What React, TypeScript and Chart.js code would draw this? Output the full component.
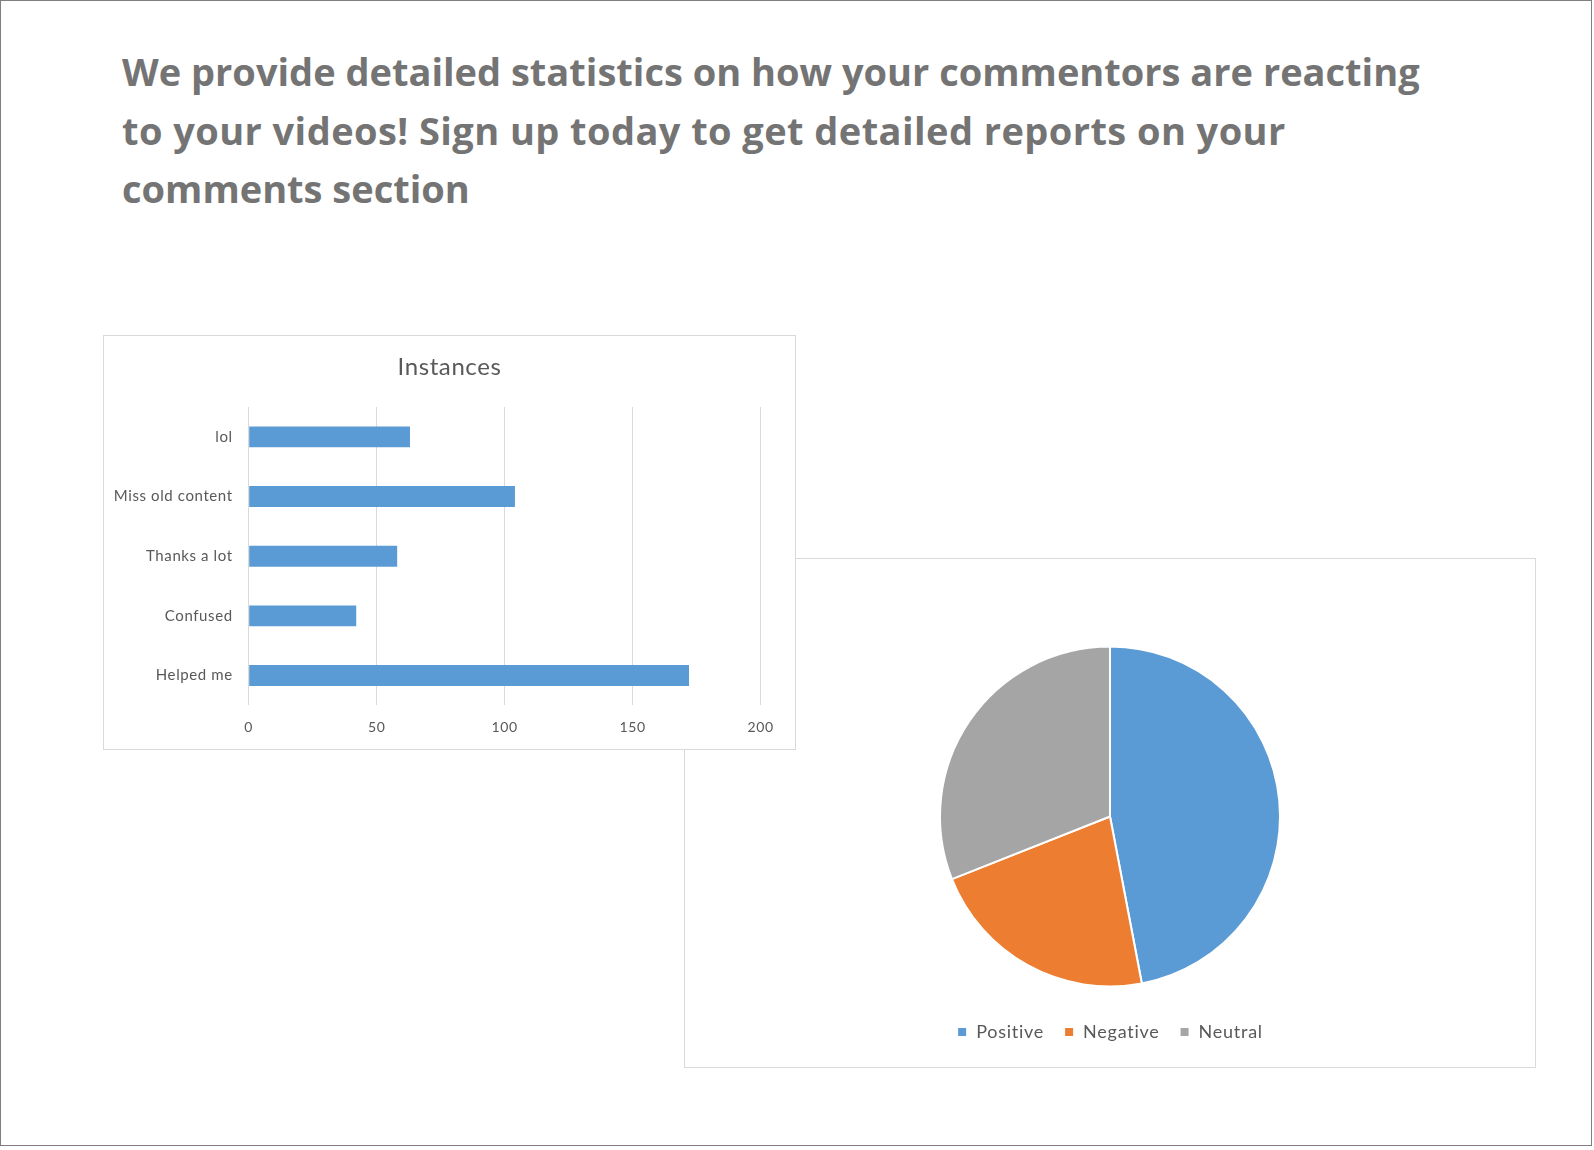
import React, { useEffect, useRef } from "react";
import { Chart, registerables } from "chart.js";

Chart.register(...registerables);

const headingLines = [
  "We provide detailed statistics on how your commentors are reacting",
  "to your videos! Sign up today to get detailed reports on your",
  "comments section",
];

const barTitle = "Instances";
const barCategories = ["lol", "Miss old content", "Thanks a lot", "Confused", "Helped me"];
const barValues = [63, 104, 58, 42, 172];
const barTicks = [0, 50, 100, 150, 200];

const pieLabels = ["Positive", "Negative", "Neutral"];
const pieValues = [47, 22, 31];
const pieColors = ["#5b9bd5", "#ed7d31", "#a5a5a5"];

const FONT = "Lato, 'Open Sans', sans-serif";
const TEXT = "#595959";
const HEADING_SPACING = ["0px", "0.43px", "0px"];

const spacingPlugin = (px: string) => ({
  id: "letterSpacingPlugin",
  beforeUpdate(chart: any) {
    chart.ctx.letterSpacing = px;
  },
  beforeDraw(chart: any) {
    chart.ctx.letterSpacing = px;
  },
});

function BarChart() {
  const ref = useRef<HTMLCanvasElement | null>(null);
  useEffect(() => {
    if (!ref.current) return;
    const chart = new Chart(ref.current, {
      type: "bar",
      data: {
        labels: barCategories,
        datasets: [
          {
            data: barValues,
            backgroundColor: "#5b9bd5",
            barPercentage: 0.35,
            categoryPercentage: 1,
            xAxisID: "x",
            yAxisID: "y",
          },
        ],
      },
      options: {
        indexAxis: "y",
        animation: false,
        responsive: false,
        events: [],
        layout: { padding: { left: 0, right: 0, top: 0, bottom: 0 } },
        plugins: {
          legend: { display: false },
          tooltip: { enabled: false },
          title: {
            display: true,
            text: barTitle,
            color: TEXT,
            font: { family: FONT, size: 24, weight: "normal", lineHeight: 1.2 },
            padding: { top: 16.6, bottom: 25.6 },
          },
        },
        scales: {
          x: {
            type: "linear",
            min: barTicks[0],
            max: barTicks[barTicks.length - 1],
            afterBuildTicks: (s: any) => {
              s.ticks = barTicks.map((v) => ({ value: v }));
            },
            ticks: {
              color: TEXT,
              font: { family: FONT, size: 14, lineHeight: 1.2 },
              padding: 13.4,
            },
            grid: { color: "#d9d9d9", drawTicks: false, lineWidth: 1 },
            border: { display: false },
          },
          y: {
            ticks: {
              color: TEXT,
              font: { family: FONT, size: 15 },
              padding: 16,
            },
            grid: { display: false, drawTicks: false },
            border: { display: false },
            afterFit: (s: any) => {
              s.width = 144.7;
            },
          },
          y2: {
            type: "linear",
            position: "right",
            display: true,
            ticks: { display: false },
            grid: { display: false, drawTicks: false },
            border: { display: false },
            afterFit: (s: any) => {
              s.width = 34.3;
            },
          },
        },
      } as any,
      plugins: [spacingPlugin("0.6px")],
    });
    return () => chart.destroy();
  }, []);
  return <canvas ref={ref} width={691} height={413} style={{ display: "block" }} />;
}

function PieChart() {
  const ref = useRef<HTMLCanvasElement | null>(null);
  useEffect(() => {
    if (!ref.current) return;
    const chart = new Chart(ref.current, {
      type: "pie",
      data: {
        labels: pieLabels,
        datasets: [
          {
            data: pieValues,
            backgroundColor: pieColors,
            borderColor: "#ffffff",
            borderWidth: 2,
            radius: 170,
          },
        ],
      },
      options: {
        animation: false,
        responsive: false,
        events: [],
        layout: { padding: { top: 71, bottom: 16, left: 0, right: 0 } },
        plugins: {
          tooltip: { enabled: false },
          legend: {
            position: "bottom",
            labels: {
              boxWidth: 10,
              boxHeight: 10,
              padding: 20,
              color: TEXT,
              font: { family: FONT, size: 18 },
            },
          },
        },
      } as any,
      plugins: [spacingPlugin("0.75px")],
    });
    return () => chart.destroy();
  }, []);
  return <canvas ref={ref} width={850} height={508} style={{ display: "block" }} />;
}

export default function App() {
  return (
    <div
      style={{
        position: "absolute",
        left: 0,
        top: 0,
        width: 1592,
        height: 1146,
        boxSizing: "border-box",
        border: "1px solid #7f7f7f",
        background: "#ffffff",
        overflow: "hidden",
      }}
    >
      <div
        style={{
          position: "absolute",
          left: 121,
          top: 41,
          fontFamily: "'Open Sans', sans-serif",
          fontWeight: 700,
          fontSize: 38,
          lineHeight: "58.5px",
          color: "#747474",
          whiteSpace: "pre",
        }}
      >
        {headingLines.map((l, i) => (
          <div key={i} style={{ letterSpacing: HEADING_SPACING[i] }}>
            {l}
          </div>
        ))}
      </div>
      <div
        style={{
          position: "absolute",
          left: 683,
          top: 557,
          width: 852,
          height: 510,
          boxSizing: "border-box",
          border: "1px solid #d9d9d9",
          background: "#ffffff",
          zIndex: 1,
        }}
      >
        <PieChart />
      </div>
      <div
        style={{
          position: "absolute",
          left: 102,
          top: 334,
          width: 693,
          height: 415,
          boxSizing: "border-box",
          border: "1px solid #d9d9d9",
          background: "#ffffff",
          zIndex: 2,
        }}
      >
        <BarChart />
      </div>
    </div>
  );
}
